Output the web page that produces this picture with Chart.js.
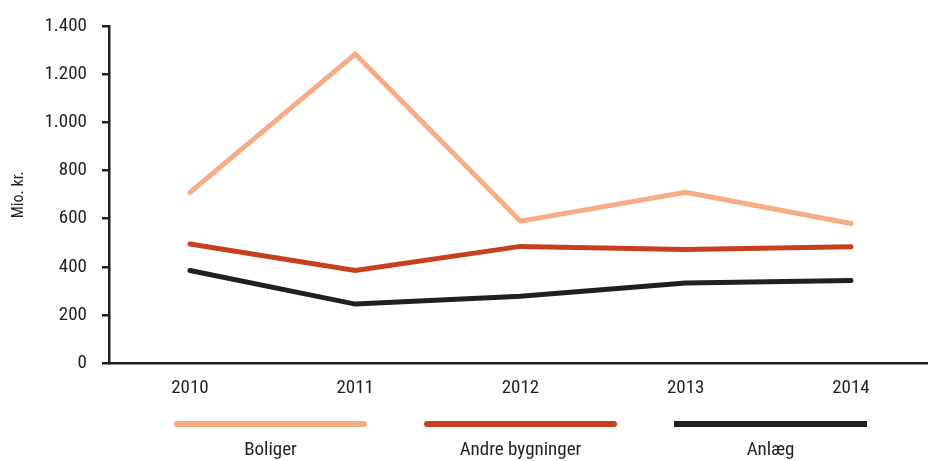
<!DOCTYPE html>
<html>
<head>
<meta charset="utf-8">
<script src="https://cdn.jsdelivr.net/npm/chart.js@4/dist/chart.umd.min.js"></script>
<style>
  html, body { margin: 0; padding: 0; background: #fff; overflow: hidden; }
  #wrap { width: 928px; height: 461px; position: relative; }
</style>
</head>
<body>
<div id="wrap"><canvas id="c" width="928" height="461"></canvas></div>
<script>
const years = [2010, 2011, 2012, 2013, 2014];
const seriesNames = ["Boliger", "Andre bygninger", "Anlæg"];
const boliger = [710, 1285, 590, 710, 580];
const andreBygninger = [495, 385, 485, 472, 483];
const anlaeg = [385, 245, 278, 333, 343];
const yTicks = [0, 200, 400, 600, 800, 1000, 1200, 1400];
const yTitle = "Mio. kr.";

const colors = ["#F8AC86", "#C73F1D", "#231F20"];
const FONT = "Roboto, 'Open Sans', sans-serif";
const STRETCH = "condensed";
const ink = "#231F20";

function fmt(v) {
  return String(v).replace(/\B(?=(\d{3})+(?!\d))/g, ".");
}

const legendPlugin = {
  id: "bottomLegend",
  afterDraw(chart) {
    const ctx = chart.ctx;
    const ca = chart.chartArea;
    const mid = (ca.left + ca.right) / 2 + 2;
    const centers = [mid - 250, mid, mid + 250];
    const len = 193;
    ctx.save();
    chart.data.datasets.forEach((ds, i) => {
      const cx = centers[i];
      ctx.beginPath();
      ctx.lineWidth = 6;
      ctx.lineCap = i === 2 ? "butt" : "round";
      ctx.strokeStyle = ds.borderColor;
      ctx.moveTo(cx - len / 2 + (i === 2 ? 0 : 3), 424);
      ctx.lineTo(cx + len / 2 - (i === 2 ? 0 : 3), 424);
      ctx.stroke();
      ctx.fillStyle = ink;
      ctx.font = STRETCH + " 19px " + FONT;
      ctx.textAlign = "center";
      ctx.textBaseline = "alphabetic";
      ctx.fillText(ds.label, cx, 455);
    });
    ctx.restore();
  }
};

const mk = (i, data) => ({
  label: seriesNames[i],
  data: years.map((y, k) => ({ x: y, y: data[k] })),
  borderColor: colors[i],
  backgroundColor: colors[i],
  borderWidth: 5,
  borderCapStyle: "round",
  borderJoinStyle: "miter",
  pointRadius: 0,
  tension: 0,
  fill: false
});

new Chart(document.getElementById("c"), {
  type: "line",
  data: {
    datasets: [mk(0, boliger), mk(1, andreBygninger), mk(2, anlaeg)]
  },
  options: {
    responsive: false,
    animation: false,
    devicePixelRatio: 1,
    layout: { padding: { top: 24, right: 0, left: 0, bottom: 0 } },
    plugins: { legend: { display: false }, tooltip: { enabled: false } },
    scales: {
      x: {
        type: "linear",
        min: 2009.51,
        max: 2014.466,
        afterBuildTicks: s => { s.ticks = years.map(v => ({ value: v })); },
        afterFit: s => { s.height = 98; },
        grid: { display: false, drawTicks: false },
        border: { display: true, color: ink, width: 2.5 },
        ticks: {
          padding: 14,
          color: ink,
          font: { family: FONT, size: 19, weight: STRETCH },
          callback: v => String(v),
          maxRotation: 0,
          autoSkip: false
        }
      },
      y: {
        min: 0,
        max: 1400,
        afterBuildTicks: s => { s.ticks = yTicks.map(v => ({ value: v })); },
        afterFit: s => { s.width = 109; },
        grid: { drawOnChartArea: false, drawTicks: true, tickLength: 7, color: ink, lineWidth: 2.5 },
        border: { display: true, color: ink, width: 2.5 },
        title: {
          display: true,
          text: yTitle,
          color: ink,
          font: { family: FONT, size: 16, weight: STRETCH },
          padding: { top: 9, bottom: 0 }
        },
        ticks: {
          padding: 15,
          color: ink,
          font: { family: FONT, size: 19, weight: STRETCH },
          callback: v => fmt(v)
        }
      }
    }
  },
  plugins: [legendPlugin]
});
</script>
</body>
</html>
